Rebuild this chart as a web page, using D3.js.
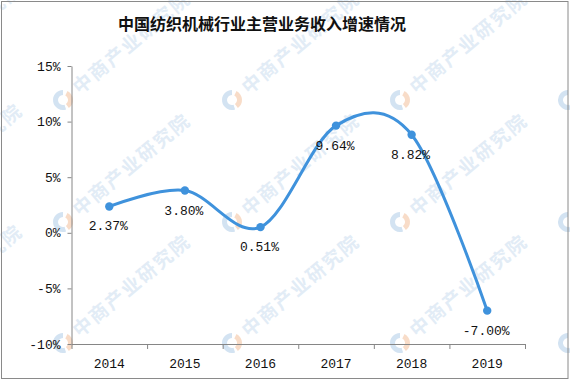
<!DOCTYPE html>
<html><head><meta charset="utf-8">
<script src="https://cdn.jsdelivr.net/npm/d3@7/dist/d3.min.js"></script>
<style>
html,body{margin:0;padding:0;background:#fff;}
svg{display:block;}
</style>
</head><body>
<svg id="c" width="570" height="381"></svg>
<script>
const title = "中国纺织机械行业主营业务收入增速情况";
const years = ["2014","2015","2016","2017","2018","2019"];
const growth = [2.37, 3.80, 0.51, 9.64, 8.82, -7.00];
const dataLabels = ["2.37%","3.80%","0.51%","9.64%","8.82%","-7.00%"];
const yTickValues = [-10, -5, 0, 5, 10, 15];
const yTickLabels = ["-10%","-5%","0%","5%","10%","15%"];
const watermarkText = "中商产业研究院";

const svg = d3.select("#c");
const W = 570, H = 381;
const m = {left: 71.5, right: 525, top: 66, bottom: 344};

svg.append("rect").attr("x",0).attr("y",0).attr("width",W).attr("height",H).attr("fill","#fff");

// watermarks
const wm = svg.append("g");
const cols = [-105, 63, 232, 400, 568];
const rows = [-20, 100, 222, 343];
cols.forEach((cx, ci) => {
  rows.forEach(ry => {
    const yy = ry + (ci === 0 ? -10 : 0);
    const g = wm.append("g").attr("transform", `translate(${cx},${yy}) rotate(-40)`);
    const arcB = d3.arc()({innerRadius:5, outerRadius:10, startAngle: Math.PI*0.9, endAngle: Math.PI*2.0});
    const arcO = d3.arc()({innerRadius:5, outerRadius:10, startAngle: Math.PI*0.15, endAngle: Math.PI*0.8});
    g.append("path").attr("d", arcB).attr("fill","#d3e3f2").attr("transform","rotate(40)");
    g.append("path").attr("d", arcO).attr("fill","#f8dcc8").attr("transform","rotate(40)");
    g.append("text").attr("x", 16).attr("y", 7)
      .attr("font-family","'Noto Sans CJK SC', sans-serif")
      .attr("font-size", 19).attr("font-weight", 700)
      .attr("fill","#e2ecf6")
      .attr("letter-spacing", 2)
      .text(watermarkText);
  });
});

// border
svg.append("rect").attr("x",1.5).attr("y",1.5).attr("width",566.5).attr("height",377)
  .attr("fill","none").attr("stroke","#8a8a8a").attr("stroke-width",1);

// title
svg.append("text").attr("x", 262).attr("y", 30).attr("text-anchor","middle")
  .attr("font-family","'Noto Sans CJK SC', sans-serif").attr("font-weight",700)
  .attr("font-size",16).attr("fill","#111").text(title);

const x = d3.scaleBand().domain(years).range([m.left, m.right]).padding(0);
const y = d3.scaleLinear().domain([-10, 15]).range([m.bottom, m.top]);

const axisColor = "#868686";
const monoFont = "'Liberation Mono', 'DejaVu Sans Mono', monospace";

// y axis
const yAxis = svg.append("g").attr("transform", `translate(${m.left},0)`)
  .call(d3.axisLeft(y).tickValues(yTickValues)
    .tickFormat((d,i) => yTickLabels[i]).tickSize(4).tickSizeOuter(0).tickPadding(7));
yAxis.selectAll("path, line").attr("stroke", axisColor);
yAxis.selectAll("text").attr("font-family", monoFont).attr("font-size", 13).attr("fill","#111");

// x axis
const xAxis = svg.append("g").attr("transform", `translate(0,${m.bottom})`)
  .call(d3.axisBottom(x).tickSize(0).tickSizeOuter(0).tickPadding(15));
xAxis.select(".domain").attr("stroke", axisColor);
xAxis.selectAll("text").attr("font-family", monoFont).attr("font-size", 13).attr("fill","#111");
const boundaries = years.map(d => x(d)).concat([x.range()[1]]);
xAxis.selectAll("line.bt").data(boundaries).join("line").attr("class","bt")
  .attr("x1", d => d + 0.5).attr("x2", d => d + 0.5).attr("y1", 0).attr("y2", 5)
  .attr("stroke", axisColor);

// line
const cx = d => x(d) + x.bandwidth()/2;
const pts = years.map((d,i) => [cx(d), y(growth[i])]);
const lineColor = "#3f92dc";
svg.append("path").attr("d", d3.line().curve(d3.curveCardinal.tension(0))(pts))
  .attr("fill","none").attr("stroke", lineColor).attr("stroke-width", 3)
  .attr("stroke-linecap","round");

svg.selectAll("circle.pt").data(pts).join("circle").attr("class","pt")
  .attr("cx", d => d[0]).attr("cy", d => d[1]).attr("r", 4.2).attr("fill", lineColor);

svg.selectAll("text.dl").data(pts).join("text").attr("class","dl")
  .attr("x", d => d[0] - 1).attr("y", d => d[1] + 24)
  .attr("text-anchor","middle").attr("font-family", monoFont).attr("font-size", 13)
  .attr("fill","#111").text((d,i) => dataLabels[i]);
</script>
</body></html>
